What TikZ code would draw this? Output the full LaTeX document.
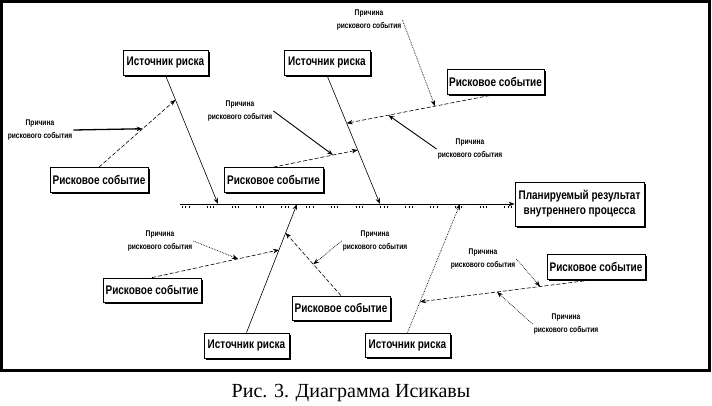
\documentclass[tikz,border=0pt]{standalone}
\usepackage{fontspec}
\setmainfont{Liberation Serif}
\newfontfamily\boxfont[FakeStretch=0.8]{Liberation Sans}
\usetikzlibrary{arrows.meta,calc,shadows}

\begin{document}
\begin{tikzpicture}[x=1pt,y=-1pt,
  box/.style={draw, line width=0.8pt, fill=white, inner sep=0pt, minimum height=25pt,
    font=\boxfont\bfseries\fontsize{12.5}{15}\selectfont,
    drop shadow={shadow xshift=1.8pt,shadow yshift=-1.8pt,fill=black,opacity=1}},
  cause/.style={font=\boxfont\bfseries\fontsize{8.3}{12.5}\selectfont, align=center, inner sep=1pt},
  tip/.style={-{Stealth[length=6pt,width=4.5pt]}},
  bone/.style={tip, line width=0.6pt},
  evline/.style={tip, dash pattern=on 4pt off 2pt, line width=0.6pt},
  cline/.style={tip, line width=0.6pt},
  dline/.style={tip, densely dotted, line width=0.7pt},
]
\useasboundingbox (0,0) rectangle (712,405);
\draw[line width=3pt] (1.5,1.5) rectangle (709,370.5);

% boxes
\node[box, minimum width=85pt] (src1) at (165.5,62.5) {Источник риска};
\node[box, minimum width=86pt] (src2) at (327,62.5) {Источник риска};
\node[box, minimum width=97pt] (evTR) at (495.5,81.5) {Рисковое событие};
\node[box, minimum width=98pt] (evL) at (99,180) {Рисковое событие};
\node[box, minimum width=99pt] (evC) at (273.5,180) {Рисковое событие};
\node[box, minimum width=129pt, minimum height=44pt, align=center] (res) at (579.5,204) {Планируемый результат\\внутреннего процесса};
\node[box, minimum width=98pt, minimum height=24pt] (evBL) at (152,290) {Рисковое событие};
\node[box, minimum width=85pt] (srcB) at (246.5,345.5) {Источник риска};
\node[box, minimum width=98pt, minimum height=24pt] (evBC) at (341,308) {Рисковое событие};
\node[box, minimum width=85pt, minimum height=24pt] (srcBR) at (407.5,345) {Источник риска};
\node[box, minimum width=98pt] (evBR) at (596,266.5) {Рисковое событие};

% cause labels
\node[cause] (cL) at (40,130) {Причина\\рискового события};
\node[cause] (cCL) at (240,111) {Причина\\рискового события};
\node[cause] (cT) at (369,20) {Причина\\рискового события};
\node[cause] (cR) at (470,149) {Причина\\рискового события};
\node[cause] (cBL) at (160,241) {Причина\\рискового события};
\node[cause] (cBC) at (375,241) {Причина\\рискового события};
\node[cause] (cBRu) at (483,259) {Причина\\рискового события};
\node[cause] (cBRl) at (566,324) {Причина\\рискового события};

% spine
\coordinate (sp0) at (180,204);
\coordinate (s1) at (218,204);
\coordinate (s2) at (380,204);
\coordinate (s3) at (297,204);
\coordinate (s4) at (460,204);
\draw[line width=2pt, dash pattern=on 0.8pt off 2.5pt on 0.8pt off 2.5pt on 0.8pt off 17.4pt] (182,207) -- (514,207);
\draw[bone] (sp0) -- (res.west);

% bones
\draw[bone] (src1.south) -- (s1);
\draw[bone] (src2.south) -- (s2);
\draw[bone] (srcB.north) -- (s3);
\draw[dline] (srcBR.north) -- (s4);

% junctions on bones
\coordinate (j1) at ($(src1.south)!0.19!(s1)$);
\coordinate (j2) at ($(src2.south)!0.58!(s2)$);
\coordinate (j3) at ($(src2.south)!0.372!(s2)$);
\coordinate (jb1) at ($(srcB.north)!0.643!(s3)$);
\coordinate (jb2) at ($(srcB.north)!0.775!(s3)$);
\coordinate (jb3) at ($(srcBR.north)!0.24!(s4)$);

% event lines
\draw[evline] (evL.north) -- (j1);
\draw[evline] (evC.north) -- (j2);
\draw[evline] (evTR.south) -- (j3);
\draw[evline] (evBL.north) -- (jb1);
\draw[evline] (evBC.north) -- (jb2);
\draw[evline] (evBR.south) -- (jb3);

% cause lines
\draw[cline, line width=1.3pt] (cL.east) -- ($(evL.north)!0.57!(j1)$);
\draw[cline, line width=0.9pt] (cCL.east) -- ($(evC.north)!0.706!(j2)$);
\draw[dline] (cT.east) -- ($(evTR.south)!0.407!(j3)$);
\draw[cline, line width=0.9pt] (cR.west) -- ($(evTR.south)!0.72!(j3)$);
\draw[dline] (cBL.east) -- ($(evBL.north)!0.677!(jb1)$);
\draw[dline] (cBC.west) -- ($(evBC.north)!0.5!(jb2)$);
\draw[dline] (cBRu.east) -- ($(evBR.south)!0.318!(jb3)$);
\draw[dline] (cBRl.west) -- ($(evBR.south)!0.5625!(jb3)$);

% caption
\node[anchor=base, font=\fontsize{20}{22}\selectfont, inner sep=0pt] (cap) at (351,397) {Рис. 3. Диаграмма Исикавы};
\end{tikzpicture}
\end{document}
